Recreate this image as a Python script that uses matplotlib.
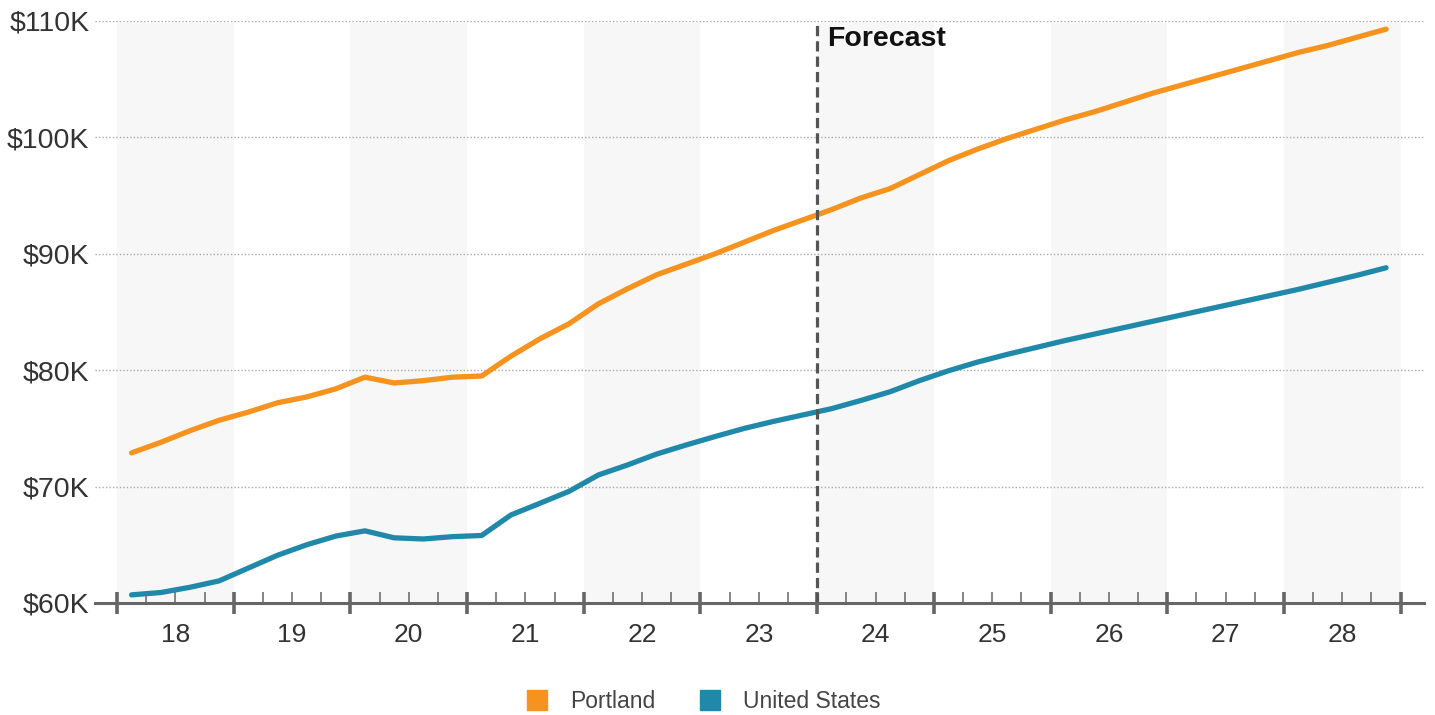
import numpy as np
import matplotlib
matplotlib.use("Agg")
import matplotlib.pyplot as plt
from matplotlib.lines import Line2D

plt.rcParams['font.family'] = ['Liberation Sans', 'DejaVu Sans']

# Quarterly values, 2018 Q1 .. 2028 Q4 (thousands of dollars)
years = ['18', '19', '20', '21', '22', '23', '24', '25', '26', '27', '28']
portland = [72.9, 73.8, 74.8, 75.7,
            76.4, 77.2, 77.7, 78.4,
            79.4, 78.9, 79.1, 79.4,
            79.5, 81.2, 82.7, 84.0,
            85.7, 87.0, 88.2, 89.1,
            90.0, 91.0, 92.0, 92.9,
            93.8, 94.8, 95.6, 96.8,
            98.0, 99.0, 99.9, 100.7,
            101.5, 102.2, 103.0, 103.8,
            104.5, 105.2, 105.9, 106.6,
            107.3, 107.9, 108.6, 109.3]
united_states = [60.7, 60.9, 61.35, 61.9,
                 63.0, 64.1, 65.0, 65.75,
                 66.2, 65.6, 65.5, 65.7,
                 65.8, 67.56, 68.57, 69.6,
                 71.0, 71.86, 72.8, 73.57,
                 74.3, 75.0, 75.6, 76.15,
                 76.7, 77.4, 78.15, 79.1,
                 79.95, 80.7, 81.35, 81.95,
                 82.55, 83.1, 83.65, 84.2,
                 84.75, 85.3, 85.85, 86.4,
                 86.95, 87.55, 88.15, 88.8]
forecast_start = '24'
y_ticks = [60, 70, 80, 90, 100, 110]

orange = '#f6921e'
blue = '#2089a9'

W, H = 1435, 715
fig = plt.figure(figsize=(W / 100, H / 100), dpi=100)
ax = fig.add_axes([95 / W, 1 - 603 / H, (1424 - 95) / W, (603 - 21) / H])

n_years = len(years)
x = np.arange(len(portland)) + 0.5

# alternating year bands
for i in range(0, n_years, 2):
    ax.axvspan(4 * i, 4 * i + 4, ymin=0, ymax=0.997, color='#f7f7f7', lw=0, zorder=0)

# dotted gridlines
for v in y_ticks[1:]:
    ax.axhline(v, color='#aaaaaa', lw=1.0, ls=(0, (1, 1.5)), zorder=1)

ax.plot(x, portland, color=orange, lw=3.8, solid_capstyle='round',
        solid_joinstyle='round', zorder=3)
ax.plot(x, united_states, color=blue, lw=3.8, solid_capstyle='round',
        solid_joinstyle='round', zorder=3)

# forecast marker
fx = 4 * years.index(forecast_start)
ax.axvline(fx, color='#555555', lw=2.3, ls=(0, (3.2, 1.6)), zorder=4)
ax.text(fx + 0.35, 109.6, 'Forecast', fontsize=20.5, fontweight='bold',
        color='#111111', ha='left', va='top', zorder=5)

ax.set_xlim(-0.754, 44.8)
ax.set_ylim(60, 110)

for s in ['top', 'right', 'left']:
    ax.spines[s].set_visible(False)
ax.spines['bottom'].set_color('#666666')
ax.spines['bottom'].set_linewidth(2.2)
ax.spines['bottom'].set_zorder(6)

ax.set_xticks(np.arange(0, 4 * n_years + 1, 4))
ax.set_xticks([q for q in range(4 * n_years) if q % 4], minor=True)
ax.tick_params(axis='x', which='major', direction='inout', length=16, width=2.6,
               color='#666666', labelbottom=False)
ax.tick_params(axis='x', which='minor', direction='in', length=8, width=1.1,
               color='#666666', labelbottom=False)
for i, yr in enumerate(years):
    ax.text(4 * i + 2, -0.055, yr, transform=ax.get_xaxis_transform(),
            ha='center', va='center', fontsize=19, color='#333333')

ax.set_yticks(y_ticks)
ax.set_yticklabels(['$%dK' % v for v in y_ticks])
ax.tick_params(axis='y', length=0, pad=4, labelsize=20.5, labelcolor='#333333')

handles = [Line2D([], [], marker='s', ls='none', markersize=14.4,
                  markerfacecolor=c, markeredgecolor=c) for c in (orange, blue)]
fig.legend(handles, ['Portland', 'United States'], loc='center',
           bbox_to_anchor=(0.49, 1 - 702 / H), ncol=2, frameon=False,
           fontsize=16.5, labelcolor='#444444', handlelength=1.0,
           handletextpad=0.93, columnspacing=1.9, borderpad=0)

fig.savefig('out.png', dpi=100)
